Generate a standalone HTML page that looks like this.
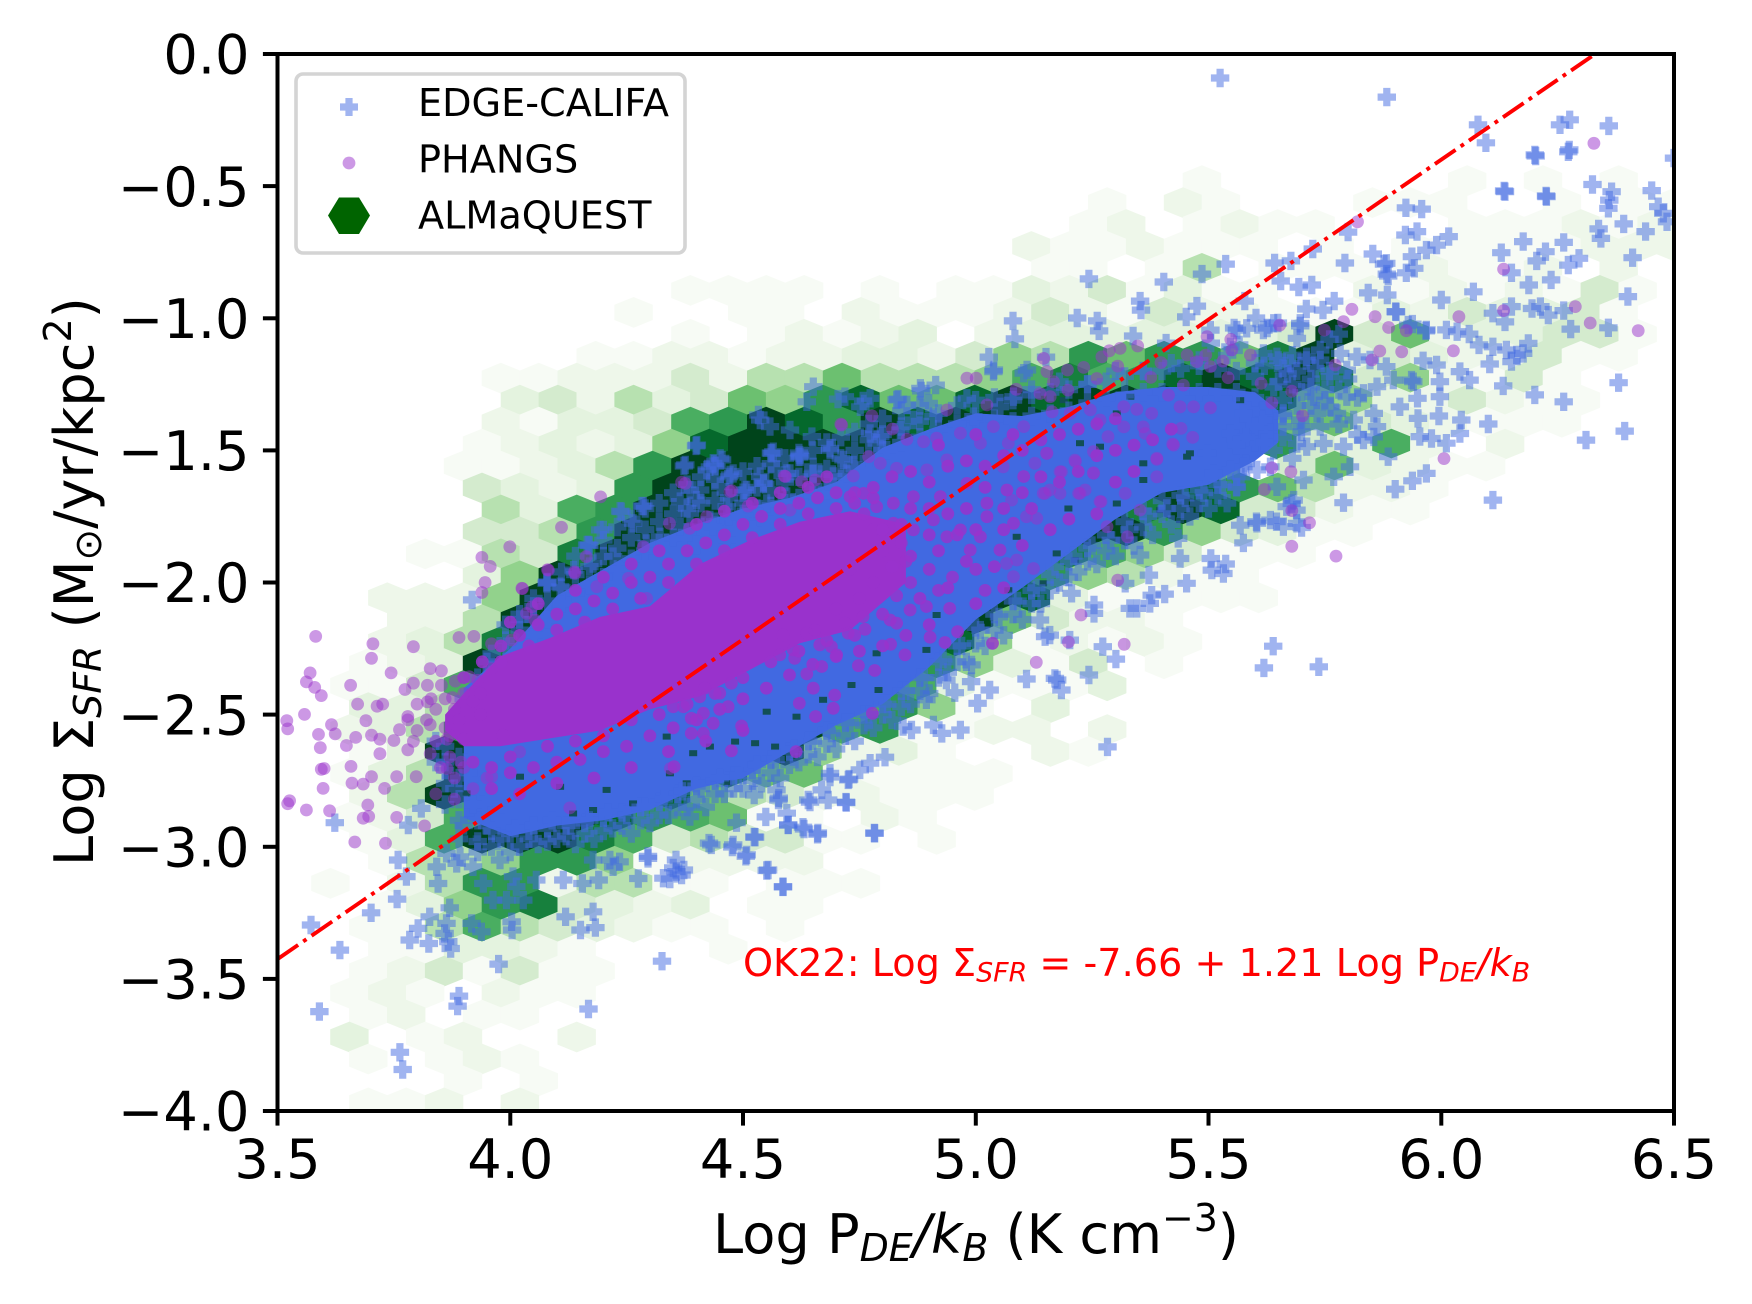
<!DOCTYPE html>
<html lang="en">
<head>
<meta charset="utf-8">
<title>Log SFR surface density vs Log midplane pressure</title>
<style>
html,body{margin:0;padding:0;background:#fff;}
#chart{display:block;width:1752px;height:1304px;font-family:"DejaVu Sans","Liberation Sans",sans-serif;}
</style>
</head>
<body>
<svg id="chart" xmlns="http://www.w3.org/2000/svg" width="1752" height="1304" viewBox="0 0 1752 1304">
  <rect x="0" y="0" width="1752" height="1304" fill="#ffffff"/>
  <defs><clipPath id="plot-clip"><rect x="277.5" y="54" width="1396.5" height="1057"/></clipPath></defs>
  <g id="plot-layer" clip-path="url(#plot-clip)"></g>
  <g id="axis-layer"></g>

  <g>
    <rect x="296" y="74" width="389" height="179" rx="7" ry="7" fill="#ffffff" fill-opacity="0.8" stroke="#d4d4d4" stroke-width="3.6"/>
    <path d="M345.4,98h7.2v5.4h5.4v7.2h-5.4v5.4h-7.2v-5.4h-5.4v-7.2h5.4z" fill="#4169e1" fill-opacity="0.5"/>
    <circle cx="349" cy="163" r="6.4" fill="#9932cc" fill-opacity="0.5"/>
    <polygon points="328,215.5 339,197.5 359,197.5 370,215.5 359,234 339,234" fill="#006400"/>
    <text x="418" y="116" font-size="38.2" fill="#000">EDGE-CALIFA</text>
    <text x="418" y="172.5" font-size="38.2" fill="#000">PHANGS</text>
    <text x="418" y="228.5" font-size="38.2" fill="#000">ALMaQUEST</text>
  </g>

  <text x="743" y="976" font-size="38.2" fill="#ff0000">OK22: Log Σ<tspan font-size="26.8" font-style="italic" dy="5.7">SFR</tspan><tspan dy="-5.7"> = -7.66 + 1.21 Log P</tspan><tspan font-size="26.8" font-style="italic" dy="5.7">DE</tspan><tspan font-style="italic" dy="-5.7">/k</tspan><tspan font-size="26.8" font-style="italic" dy="5.7">B</tspan></text>

  <text x="713" y="1253" font-size="54.17" fill="#000">Log P<tspan font-size="37.9" font-style="italic" dy="8">DE</tspan><tspan font-style="italic" dy="-8">/k</tspan><tspan font-size="37.9" font-style="italic" dy="8">B</tspan><tspan dy="-8"> (K cm</tspan><tspan font-size="37.9" dy="-22">−3</tspan><tspan dy="22">)</tspan></text>

  <text transform="translate(93,866) rotate(-90)" x="0" y="0" font-size="54.17" fill="#000">Log Σ<tspan font-size="37.9" font-style="italic" dy="8">SFR</tspan><tspan dy="-8"> (M</tspan><tspan font-size="37.9" dy="8">⊙</tspan><tspan dy="-8">/yr/kpc</tspan><tspan font-size="37.9" dy="-22">2</tspan><tspan dy="22">)</tspan></text>
</svg>

<script>
const xTicks = [3.5, 4.0, 4.5, 5.0, 5.5, 6.0, 6.5];
const xTickLabels = ["3.5", "4.0", "4.5", "5.0", "5.5", "6.0", "6.5"];
const yTicks = [0, -0.5, -1, -1.5, -2, -2.5, -3, -3.5, -4];
const yTickLabels = ["0.0", "−0.5", "−1.0", "−1.5", "−2.0", "−2.5", "−3.0", "−3.5", "−4.0"];

const fitIntercept = -7.66;
const fitSlope = 1.21;

const hexBinWidth = 0.0814;
const hexBinHeight = 0.0831;
const hexOriginX = 3.980;
const hexOriginY = -1.227;

/* [row, first column, binned density levels 0-12] */
const hexRows = [
[-9,18,[1,0,0,0,0,0,0,1,0,1,0,1]],
[-8,16,[1,0,2,1,0,0,0,1,1,1,0,0,1,0,1,1]],
[-7,15,[1,2,0,1,2,1,1,0,0,0,1,1,1,2,1,2]],
[-6,14,[2,1,1,2,1,1,1,0,1,0,1,1,1,1,1,2,2,2]],
[-5,14,[1,1,0,1,5,0,1,1,1,1,2,1,1,2,0,2]],
[-4,5,[1,1,1,1,0,1,0,1,1,3,2,4,1,3,1,1,0,0,2,1,2,1,2,1,4,1]],
[-3,3,[1,0,0,1,1,0,2,1,1,1,2,4,2,1,4,2,2,1,1,1,3,2,4,3,3,4,1]],
[-2,5,[1,0,1,2,1,2,3,0,2,3,3,3,3,3,3,3,4,12,4,7,2,3,3,4,4,1]],
[-1,2,[1,1,2,2,1,2,2,3,3,2,4,6,5,9,7,9,9,7,10,12,3,4,3,2,2,4,1,1]],
[0,0,[1,1,2,2,2,4,2,5,5,7,5,5,5,6,8,10,8,9,11,12,11,12,10,4,6,2,1,4,1]],
[1,0,[3,4,2,5,3,4,7,6,9,11,7,7,11,12,11,12,12,12,12,12,11,7,6,3,2,4,2,1,1]],
[2,0,[2,1,3,3,4,8,9,12,11,9,12,11,12,12,12,12,12,12,12,12,10,7,7,4,3,2,1,1,1]],
[3,-1,[1,2,3,2,3,6,11,12,12,12,12,12,12,12,12,12,12,12,12,12,11,9,4,3,8,2,0,2]],
[4,-1,[1,1,2,3,5,9,12,12,12,12,12,12,12,12,12,12,12,12,12,11,7,0,4,7,3,2,1,1]],
[5,-1,[4,3,2,3,9,12,12,12,12,12,12,12,12,12,12,12,12,12,12,11,9,7,5,2,2,1]],
[6,0,[5,3,8,9,12,12,12,12,12,12,12,12,12,12,12,12,12,10,12,11,4,4,2,1,1]],
[7,-1,[4,4,5,9,12,12,12,12,12,12,12,12,12,12,12,12,12,12,9,6,4,3,1,1]],
[8,-2,[1,1,5,4,10,12,12,12,12,12,12,12,12,12,12,12,12,10,8,6,4,1,1,1]],
[9,-1,[3,6,12,12,12,12,12,12,12,12,12,12,12,12,11,9,6,5,2,1,1]],
[10,-3,[2,2,2,6,12,12,12,12,12,12,12,12,12,12,12,12,12,11,3,1,1,1,1,1]],
[11,-3,[2,2,5,12,12,12,12,12,12,12,12,12,12,12,12,12,7,4,2,2,1]],
[12,-3,[2,3,5,10,12,12,12,12,12,12,12,12,12,12,12,11,6,1,2,1,2,1]],
[13,-4,[1,2,3,12,12,12,12,12,12,12,12,12,12,12,12,9,6,3,1,4,0,1]],
[14,-4,[1,1,4,8,12,12,12,12,12,12,12,12,12,12,11,8,3,1,1,1,3]],
[15,-4,[3,3,5,9,12,12,12,12,12,12,12,12,12,8,9,6,1,0,3]],
[16,-4,[2,3,5,9,12,12,12,12,12,12,12,12,12,8,9,1,1,2,2,0,2]],
[17,-4,[1,3,12,12,12,12,12,12,12,12,12,12,6,2,3,1,0,0,2,1]],
[18,-4,[1,3,5,12,12,12,12,12,12,12,10,7,7,2,1,1,1,1]],
[19,-4,[2,5,12,12,12,12,12,12,11,7,5,4,2,2,1,1,1]],
[20,-4,[1,2,4,8,12,12,12,11,9,8,7,1,1,0,2,1]],
[21,-4,[1,3,8,12,12,12,10,8,4,5,4,4,1,1,0,1]],
[22,-3,[1,5,5,6,9,9,6,1,2,2,2,2]],
[23,-5,[1,0,2,5,9,9,2,5,5,1,1,0,1,1,1]],
[24,-3,[1,3,6,9,10,4,3,2,3,0,1,1]],
[25,-4,[1,1,5,8,5,4,3,2,1,1,0,1]],
[26,-3,[1,1,3,3,2,1,0,0,0,1]],
[27,-4,[1,2,4,1,4,1,1]],
[28,-4,[1,2,1,0,2,1,1]],
[29,-4,[1,2,0,1,1]],
[30,-4,[3,0,1,2,0,0,2]],
[31,-4,[1,0,1,2,1]],
[32,-1,[1,0,1]],
[33,-4,[1,1,2,0,2]]
];

/* saturated core of the EDGE-CALIFA cloud */
const edgeCoreX = [3.90,4.00,4.10,4.20,4.30,4.40,4.50,4.60,4.70,4.80,4.90,5.00,5.10,5.20,5.30,5.40,5.50,5.60,5.65];
const edgeCoreTop = [-2.40,-2.25,-2.05,-1.95,-1.85,-1.78,-1.72,-1.68,-1.62,-1.49,-1.42,-1.36,-1.37,-1.335,-1.28,-1.26,-1.26,-1.28,-1.35];
const edgeCoreBottom = [-2.89,-2.96,-2.92,-2.90,-2.86,-2.78,-2.74,-2.64,-2.54,-2.46,-2.32,-2.14,-2.02,-1.89,-1.76,-1.66,-1.63,-1.54,-1.47];

/* saturated core of the PHANGS cloud */
const phangsCoreX = [3.86,3.90,3.978,4.085,4.193,4.30,4.408,4.515,4.622,4.73,4.85];
const phangsCoreTop = [-2.50,-2.42,-2.28,-2.21,-2.13,-2.09,-1.93,-1.84,-1.77,-1.73,-1.78];
const phangsCoreBottom = [-2.56,-2.62,-2.62,-2.59,-2.56,-2.48,-2.43,-2.33,-2.23,-2.18,-2.00];

/* places where dark hexes show through the cloud */
const coreGaps = [[4.336,-2.583],[4.393,-2.646],[4.429,-2.621],[4.483,-2.602],[4.526,-2.608],[4.551,-2.489],[4.569,-2.621],[4.672,-2.444],[4.733,-2.388],[4.791,-2.407],[4.894,-2.255],[4.916,-2.123],[4.787,-2.268],[4.615,-2.508],[4.379,-2.76],[4.468,-2.76],[4.343,-2.722],[3.928,-2.968],[4.021,-2.735],[4.135,-2.874],[4.178,-2.861],[4.264,-2.836],[4.207,-2.785],[3.978,-2.975],[4.107,-2.773],[3.906,-2.798],[5.303,-1.701],[5.199,-1.72],[5.07,-2.029],[5.174,-1.89],[5.213,-1.915],[5.36,-1.612],[5.46,-1.511],[5.439,-1.764],[5.396,-1.726],[5.088,-1.827],[5.145,-2.003],[5.189,-1.31],[5.332,-1.297],[5.303,-1.36],[5.568,-1.31],[5.224,-1.473],[5.454,-1.524],[5.36,-1.549],[5.267,-1.486]];

const edgeOutliersRight = [[6.203,-0.386],[6.273,-0.37],[6.325,-0.494],[6.366,-0.521],[6.361,-0.553],[6.359,-0.584],[6.452,-0.517],[6.466,-0.578],[6.477,-0.603],[6.485,-0.635],[6.137,-0.521],[6.226,-0.54],[6.392,-0.643],[6.439,-0.672],[6.338,-0.662],[6.343,-0.698],[6.176,-0.71],[6.263,-0.713],[6.129,-0.752],[6.224,-0.748],[6.205,-0.783],[6.296,-0.773],[6.273,-0.799],[6.411,-0.771],[6.151,-0.828],[6.188,-0.874],[6.236,-0.855],[6.401,-0.918],[6.069,-0.9],[6,-0.931],[5.924,-0.582],[5.958,-0.587],[5.923,-0.685],[5.948,-0.672],[6.016,-0.691],[5.99,-0.723],[5.968,-0.742],[5.937,-0.767],[5.942,-0.811],[5.882,-0.792],[5.925,-0.828],[5.886,-0.84],[5.884,-0.912],[5.902,-0.975],[5.929,-1.026],[5.968,-1.044],[6.011,-1.044],[6.034,-1.051],[6.06,-1.06],[6.081,-1.101],[6.111,-1.108],[6.111,-0.981],[6.137,-1.014],[6.151,-0.956],[6.195,-0.963],[6.213,-0.956],[6.23,-0.988],[6.263,-0.971],[6.278,-1.041],[6.359,-1.036],[6.14,-1.12],[6.187,-1.095],[6.162,-1.139],[6.176,-1.133],[6.151,-1.164],[6.104,-1.173],[5.99,-1.177],[5.961,-1.161],[6.04,-1.202],[6.061,-1.234],[5.997,-1.24],[5.936,-1.234],[6.133,-1.256],[6.201,-1.29],[5.997,-1.297],[5.949,-1.303],[6.263,-1.316],[6.381,-1.244],[6.101,-1.4],[5.995,-1.37],[6.043,-1.385],[5.95,-1.379],[5.911,-1.335],[6.04,-1.436],[6.011,-1.473],[5.979,-1.455],[5.954,-1.448],[6.311,-1.461],[6.394,-1.427],[5.968,-1.587],[5.938,-1.615],[5.901,-1.647],[6.111,-1.688],[5.886,-1.524],[5.882,-1.183],[5.897,-1.234],[5.94,-1.24]];

const edgeOutliersTop = [[5.525,-0.091],[5.883,-0.163],[6.079,-0.268],[6.096,-0.336],[6.255,-0.268],[6.276,-0.249],[6.36,-0.272],[6.201,-0.382],[6.275,-0.363],[6.135,-0.518],[6.225,-0.537],[6.5,-0.394],[5.243,-0.851],[5.404,-0.863],[5.537,-0.795],[5.486,-0.833],[5.642,-0.791],[5.677,-0.783],[5.724,-0.738],[5.793,-0.791],[5.8,-0.674],[5.853,-0.757],[5.877,-0.795],[5.883,-0.833],[5.655,-0.859],[5.694,-0.882],[5.722,-0.874],[5.578,-0.935],[5.475,-0.954],[5.452,-0.995],[5.353,-0.935],[5.355,-0.969],[5.218,-0.999],[5.261,-1.01],[5.265,-1.048],[5.08,-1.01],[5.084,-1.078],[5.338,-1.067],[5.028,-1.147],[5.039,-1.196],[4.914,-1.253],[4.883,-1.275],[4.833,-1.306],[5.151,-1.147],[5.11,-1.196],[5.843,-0.904],[5.77,-0.935],[5.746,-0.969],[5.71,-0.965],[5.602,-0.999],[5.555,-1.037],[5.626,-1.037],[5.649,-1.018],[5.697,-1.029],[5.903,-0.976],[5.938,-1.022],[5.967,-1.048],[5.409,-1.094],[5.505,-1.094],[5.566,-1.101]];

const edgeOutliersLowLeft = [[3.623,-2.909],[3.781,-2.918],[3.809,-2.855],[3.759,-3.05],[3.777,-3.113],[3.757,-3.198],[3.701,-3.25],[3.572,-3.296],[3.634,-3.391],[3.59,-3.624],[3.763,-3.778],[3.769,-3.843],[3.89,-3.565],[3.887,-3.603],[4.168,-3.614],[3.975,-3.444],[3.87,-3.231],[3.845,-3.139],[3.784,-3.353],[3.825,-3.366],[3.802,-3.309],[3.827,-3.265],[3.863,-3.29],[3.859,-3.328],[3.867,-3.359],[3.872,-3.385],[3.917,-3.29],[3.938,-3.322],[4.004,-3.315],[4.003,-3.284],[4.119,-3.265],[4.178,-3.246],[4.151,-3.315],[4.183,-3.306],[4.275,-3.12],[4.114,-3.126],[4.155,-3.139],[4.19,-3.126],[4.056,-3.126],[3.842,-3.076],[3.885,-3.063],[3.92,-3.076],[3.892,-3.038],[3.863,-3.025],[3.942,-3.139],[3.978,-3.05],[4.006,-3.113],[3.963,-3.202],[3.992,-3.202],[4.028,-3.202],[4.013,-3.151],[4.296,-3.044],[4.221,-3.076],[4.214,-3.05],[4.235,-3.057],[4.178,-3.05],[4.326,-3.433],[4.296,-3.036],[4.35,-3.08],[4.343,-3.122],[4.373,-3.088],[4.427,-2.986],[4.477,-3.001],[4.506,-3.036],[4.554,-3.088],[4.586,-3.152],[4.524,-2.963],[4.549,-2.887],[4.597,-2.918],[4.631,-2.933],[4.661,-2.948],[4.721,-2.831],[4.524,-2.804],[4.577,-2.816],[4.644,-2.831],[4.687,-2.736],[4.728,-2.744],[4.782,-2.948]];

const edgeOutliersLowRight = [[4.687,-2.722],[4.726,-2.747],[4.751,-2.709],[4.773,-2.684],[4.805,-2.661],[4.64,-2.823],[4.683,-2.823],[4.722,-2.833],[4.669,-2.785],[4.572,-2.785],[4.576,-2.823],[4.594,-2.873],[4.597,-2.917],[4.629,-2.926],[4.66,-2.953],[4.783,-2.949],[4.526,-2.964],[4.508,-3.031],[4.551,-3.09],[4.586,-3.151],[4.479,-2.993],[4.432,-2.993],[4.356,-3.05],[4.329,-3.119],[4.357,-3.094],[4.368,-3.107],[4.844,-2.545],[4.862,-2.558],[4.909,-2.539],[4.927,-2.571],[4.967,-2.558],[5.004,-2.457],[4.955,-2.417],[4.99,-2.375],[5.03,-2.407],[4.937,-2.369],[4.991,-2.312],[4.894,-2.444],[4.486,-2.909],[4.386,-2.886],[5.283,-2.622],[5.639,-2.241],[5.619,-2.323],[5.737,-2.319],[5.109,-2.365],[5.17,-2.363],[5.175,-2.369],[5.184,-2.407],[5.243,-2.35],[5.273,-2.243],[5.301,-2.29],[5.149,-2.205],[5.159,-2.199],[5.202,-2.218],[5.254,-2.085],[5.254,-2.117],[5.206,-2.041],[5.138,-2.142],[5.331,-2.098],[5.346,-2.098],[5.374,-2.079],[5.378,-2.048],[5.406,-2.044],[5.453,-2.003],[5.372,-1.972],[5.321,-2.003],[5.439,-1.909],[5.505,-1.909],[5.507,-1.953],[5.537,-1.93],[5.532,-1.966],[5.575,-1.85],[5.603,-1.77],[5.568,-1.783],[5.646,-1.77],[5.7,-1.792],[5.679,-1.701],[5.689,-1.726],[5.79,-1.698],[5.435,-1.833],[5.353,-1.896]];

const edgeTransition = [[5.561,-1.045],[5.582,-1.038],[5.618,-1.045],[5.64,-1.019],[5.697,-1.019],[5.69,-1.076],[5.504,-1.045],[5.547,-1.108],[5.618,-1.133],[5.647,-1.146],[5.676,-1.171],[5.711,-1.146],[5.74,-1.158],[5.783,-1.133],[5.761,-1.221],[5.797,-1.196],[5.819,-1.146],[5.847,-1.158],[5.726,-1.297],[5.761,-1.335],[5.797,-1.297],[5.833,-1.284],[5.862,-1.259],[5.661,-1.36],[5.697,-1.385],[5.733,-1.36],[5.776,-1.36],[5.812,-1.385],[5.855,-1.36],[5.618,-1.385],[5.575,-1.36],[5.69,-1.474],[5.711,-1.486],[5.747,-1.474],[5.79,-1.486],[5.704,-1.612],[5.647,-1.638],[5.683,-1.688],[5.547,-1.574],[5.575,-1.562],[5.604,-1.574],[5.633,-1.562],[5.804,-1.562],[5.769,-1.6],[5.633,-1.764],[5.668,-1.713],[5.604,-1.776],[5.69,-1.776],[5.661,-1.789],[5.862,-1.41],[5.833,-1.461],[5.855,-1.449],[5.511,-1.587],[5.497,-1.511],[5.561,-1.638],[5.547,-1.436],[5.68,-1.25],[5.7,-1.28],[5.66,-1.31],[5.72,-1.33],[5.69,-1.33],[5.64,-1.26],[5.67,-1.21],[5.72,-1.23],[5.75,-1.27],[5.66,-1.41],[5.7,-1.43],[5.74,-1.41],[5.62,-1.44],[5.6,-1.47],[5.64,-1.5],[5.68,-1.53],[5.62,-1.18],[5.65,-1.16],[5.68,-1.14],[5.71,-1.16],[5.74,-1.12],[5.76,-1.08],[5.78,-1.06],[5.65,-1.24],[5.69,-1.2],[5.73,-1.19],[5.76,-1.2],[5.63,-1.33],[5.66,-1.37],[5.7,-1.41],[5.6,-1.41],[5.58,-1.45],[5.56,-1.48],[5.62,-1.47],[5.66,-1.45],[5.72,-1.26],[5.75,-1.31],[5.78,-1.27],[5.8,-1.23],[5.82,-1.3],[5.78,-1.4],[5.82,-1.44]];

const edgeFringeUpper = [[4.651,-1.259],[4.637,-1.316],[4.719,-1.297],[4.752,-1.335],[4.773,-1.303],[4.83,-1.309],[4.881,-1.265],[4.852,-1.328],[4.899,-1.322],[4.981,-1.303],[5.038,-1.202],[5.103,-1.208],[4.533,-1.366],[4.558,-1.41],[4.601,-1.423],[4.648,-1.448],[4.687,-1.499],[4.562,-1.511],[4.623,-1.524],[4.401,-1.48],[4.376,-1.555],[4.455,-1.536],[4.429,-1.562],[4.472,-1.593],[4.508,-1.65],[4.544,-1.625],[4.594,-1.587],[4.651,-1.562],[4.716,-1.536],[4.737,-1.555],[4.787,-1.473],[4.809,-1.499],[4.694,-1.599],[4.408,-1.65],[4.451,-1.637],[4.465,-1.713],[4.429,-1.763],[4.386,-1.738],[4.501,-1.7],[4.537,-1.599],[4.573,-1.574],[4.386,-1.65],[4.723,-1.587],[4.773,-1.436],[4.795,-1.448],[4.838,-1.423],[4.866,-1.385],[4.909,-1.372],[4.995,-1.372],[5.052,-1.335],[5.081,-1.297],[4.286,-1.711],[4.239,-1.732],[4.264,-1.776],[4.2,-1.801],[4.168,-1.858],[4.322,-1.827],[4.365,-1.694],[4.4,-1.688],[4.436,-1.549],[4.479,-1.587],[4.422,-1.574],[4.451,-1.53],[4.504,-1.65],[4.565,-1.505],[4.622,-1.518],[4.687,-1.492],[4.544,-1.625],[4.601,-1.587],[4.651,-1.587],[4.078,-2.003],[4.107,-2.016],[4.221,-1.902],[4.293,-1.852],[4.365,-1.789],[4.436,-1.789],[4.494,-1.751],[4.551,-1.701],[4.594,-1.675],[4.651,-1.637],[4.694,-1.637],[4.4,-1.858],[4.465,-1.839],[4.522,-1.801],[4.136,-1.953],[4.178,-1.928],[3.992,-2.243],[3.918,-2.066],[4.399,-1.483],[4.373,-1.559],[4.236,-1.73],[4.283,-1.711],[4.193,-1.801],[4.165,-1.858],[4.079,-1.998],[4.537,-1.385],[4.704,-1.306],[4.758,-1.313],[4.56,-1.51],[4.62,-1.525],[5.12,-1.27],[5.18,-1.24],[5.24,-1.25],[5.3,-1.2],[5.36,-1.2],[5.42,-1.17],[5.48,-1.16],[5.54,-1.14],[5.6,-1.17],[5.66,-1.19],[3.95,-2.3],[4.02,-2.14],[4.05,-2.09],[3.93,-2.4],[3.96,-2.35]];

const edgeFillUpper = [[3.96,-2.33],[3.96,-2.27],[3.99,-2.3],[3.99,-2.22],[3.99,-2.16],[4.02,-2.26],[4.02,-2.18],[4.02,-2.12],[4.05,-2.2],[4.05,-2.14],[4.05,-2.06],[4.08,-2.14],[4.08,-2.07],[4.08,-2],[4.11,-2.08],[4.11,-2.02],[4.11,-1.96],[4.14,-2.04],[4.14,-1.97],[4.14,-1.9],[4.17,-2.01],[4.17,-1.94],[4.17,-1.86],[4.2,-1.98],[4.2,-1.9],[4.2,-1.84],[4.23,-1.95],[4.23,-1.87],[4.23,-1.79],[4.26,-1.91],[4.26,-1.83],[4.26,-1.76],[4.29,-1.88],[4.29,-1.8],[4.29,-1.72],[4.32,-1.85],[4.32,-1.77],[4.32,-1.7],[4.35,-1.83],[4.35,-1.74],[4.35,-1.66],[4.38,-1.81],[4.38,-1.72],[4.38,-1.63],[4.41,-1.79],[4.41,-1.7],[4.41,-1.6],[4.44,-1.77],[4.44,-1.69],[4.44,-1.61],[4.44,-1.56],[4.47,-1.75],[4.47,-1.68],[4.47,-1.6],[4.5,-1.74],[4.5,-1.66],[4.5,-1.58],[4.53,-1.72],[4.53,-1.64],[4.53,-1.56],[4.56,-1.71],[4.56,-1.65],[4.56,-1.55],[4.59,-1.7],[4.59,-1.62],[4.59,-1.53],[4.62,-1.68],[4.62,-1.6],[4.62,-1.51],[4.65,-1.67],[4.65,-1.59],[4.65,-1.5],[4.68,-1.65],[4.68,-1.57],[4.68,-1.47],[4.71,-1.6],[4.71,-1.53],[4.71,-1.45],[4.74,-1.57],[4.74,-1.5],[4.74,-1.43],[4.77,-1.53],[4.77,-1.46],[4.77,-1.4],[4.8,-1.5],[4.8,-1.44],[4.8,-1.38],[4.84,-1.47],[4.84,-1.41],[4.84,-1.35],[4.88,-1.45],[4.88,-1.39],[4.88,-1.33],[4.92,-1.42],[4.92,-1.36],[4.96,-1.4],[4.96,-1.33],[5,-1.38],[5,-1.31],[5.04,-1.38],[5.04,-1.3],[5.08,-1.39],[5.08,-1.31],[5.12,-1.37],[5.12,-1.29],[5.16,-1.36],[5.16,-1.28],[5.2,-1.35],[5.2,-1.27],[5.24,-1.32],[5.24,-1.25],[5.28,-1.3],[5.28,-1.24],[5.32,-1.29],[5.32,-1.22],[5.36,-1.28],[5.36,-1.2],[5.4,-1.28],[5.4,-1.2],[5.44,-1.28],[5.44,-1.19],[5.48,-1.28],[5.48,-1.18],[5.52,-1.28],[5.52,-1.19],[5.56,-1.28],[5.56,-1.2],[5.6,-1.3],[5.6,-1.22],[3.9,-2.5],[3.9,-2.44],[3.93,-2.42],[3.93,-2.36],[3.84,-2.6],[3.84,-2.68]];

const edgeFringeLower = [[3.88,-2.78],[3.92,-2.84],[3.9,-2.92],[3.95,-2.92],[3.98,-2.97],[4.02,-3],[4.06,-2.99],[4.1,-2.97],[4.14,-2.99],[4.18,-2.97],[4.22,-2.93],[4.26,-2.95],[4.3,-2.91],[4.34,-2.88],[4.38,-2.85],[4.42,-2.85],[4.46,-2.8],[4.5,-2.78],[4.54,-2.76],[4.58,-2.74],[4.62,-2.68],[4.66,-2.66],[4.7,-2.63],[4.74,-2.6],[4.78,-2.55],[4.82,-2.52],[4.86,-2.46],[4.9,-2.42],[4.94,-2.34],[4.98,-2.3],[5.02,-2.24],[5.06,-2.2],[5.1,-2.14],[5.14,-2.08],[5.18,-2],[5.22,-1.96],[5.26,-1.93],[5.3,-1.9],[5.34,-1.86],[5.38,-1.82],[5.42,-1.78],[5.46,-1.75],[5.5,-1.72],[5.54,-1.7],[3.86,-2.71],[3.91,-2.72],[3.94,-2.77],[3.97,-2.86],[4.01,-2.93],[4.05,-2.92],[4.09,-2.9],[4.13,-2.92],[4.17,-2.9],[4.21,-2.87],[4.25,-2.88],[4.29,-2.85],[4.33,-2.82],[4.37,-2.79],[4.41,-2.78],[4.45,-2.74],[4.49,-2.73],[4.53,-2.69],[4.57,-2.67],[4.61,-2.63],[4.65,-2.6],[4.69,-2.57],[4.73,-2.53],[4.77,-2.5],[4.81,-2.46],[4.85,-2.41],[4.89,-2.36],[4.93,-2.29],[4.97,-2.24],[5.01,-2.18],[5.05,-2.13],[5.09,-2.07],[5.13,-2.02],[5.17,-1.94],[5.21,-1.9],[5.25,-1.86],[5.29,-1.84],[5.33,-1.8],[5.37,-1.75],[5.41,-1.72],[5.45,-1.68],[5.49,-1.66],[5.53,-1.63],[5.57,-1.6],[5.58,-1.55]];

const edgeFillLower = [[3.86,-2.62],[3.86,-2.68],[3.86,-2.76],[3.86,-2.84],[3.89,-2.66],[3.89,-2.74],[3.89,-2.82],[3.89,-2.9],[3.89,-2.97],[3.93,-2.9],[3.93,-2.98],[3.93,-3.02],[3.96,-2.94],[3.96,-3],[4,-2.95],[4,-3.02],[4.04,-2.94],[4.04,-2.97],[4.08,-2.93],[4.08,-2.98],[4.12,-2.92],[4.12,-2.96],[4.16,-2.91],[4.16,-2.95],[4.2,-2.89],[4.2,-2.94],[4.24,-2.87],[4.24,-2.92],[4.28,-2.85],[4.28,-2.9],[4.32,-2.83],[4.32,-2.88],[4.36,-2.8],[4.36,-2.85],[4.4,-2.77],[4.4,-2.82],[4.44,-2.75],[4.44,-2.8],[4.48,-2.73],[4.48,-2.78],[4.52,-2.71],[4.52,-2.75],[4.56,-2.67],[4.56,-2.72],[4.6,-2.64],[4.6,-2.69],[4.64,-2.6],[4.64,-2.65],[4.68,-2.56],[4.68,-2.61],[4.72,-2.53],[4.72,-2.58],[4.76,-2.5],[4.76,-2.54],[4.8,-2.46],[4.8,-2.5],[4.84,-2.41],[4.84,-2.47],[4.88,-2.36],[4.88,-2.41],[4.92,-2.3],[4.92,-2.36],[4.96,-2.24],[4.96,-2.3],[5,-2.17],[5,-2.23],[5.04,-2.12],[5.04,-2.18],[5.08,-2.07],[5.08,-2.12],[5.12,-2.03],[5.12,-2.08],[5.16,-1.97],[5.16,-2.03],[5.2,-1.92],[5.2,-1.98],[5.24,-1.87],[5.24,-1.92],[5.28,-1.82],[5.28,-1.88],[5.32,-1.77],[5.32,-1.84],[5.36,-1.73],[5.36,-1.79],[5.4,-1.69],[5.4,-1.74],[5.44,-1.67],[5.44,-1.72],[5.48,-1.65],[5.48,-1.7],[5.52,-1.63],[5.52,-1.67],[5.56,-1.6],[5.56,-1.64]];

const phangsLeft = [[3.52,-2.523],[3.522,-2.554],[3.558,-2.499],[3.57,-2.342],[3.562,-2.376],[3.58,-2.397],[3.594,-2.428],[3.616,-2.538],[3.624,-2.573],[3.588,-2.575],[3.592,-2.625],[3.6,-2.704],[3.594,-2.707],[3.598,-2.779],[3.657,-2.389],[3.672,-2.46],[3.69,-2.523],[3.648,-2.617],[3.668,-2.586],[3.702,-2.578],[3.72,-2.593],[3.75,-2.598],[3.72,-2.648],[3.658,-2.696],[3.702,-2.735],[3.66,-2.759],[3.684,-2.763],[3.73,-2.779],[3.522,-2.837],[3.526,-2.826],[3.562,-2.861],[3.612,-2.864],[3.694,-2.842],[3.696,-2.885],[3.684,-2.892],[3.756,-2.889],[3.666,-2.982],[3.732,-2.987],[3.816,-2.921],[3.744,-2.342],[3.702,-2.287],[3.726,-2.46],[3.714,-2.468],[3.762,-2.557],[3.78,-2.507],[3.792,-2.601],[3.78,-2.633],[3.798,-2.735],[3.756,-2.735],[3.774,-2.405],[3.828,-2.326],[3.852,-2.334],[3.882,-2.373],[3.792,-2.381],[3.822,-2.389],[3.852,-2.389],[3.876,-2.436],[3.828,-2.538],[3.822,-2.452],[3.864,-2.593],[3.9,-2.593],[3.828,-2.648],[3.864,-2.704],[3.894,-2.68],[3.936,-2.499],[3.936,-2.42],[3.912,-2.357],[3.96,-2.326],[3.984,-2.578],[4.02,-2.641],[3.96,-2.735],[4.128,-2.853],[4.344,-2.704],[3.582,-2.204],[3.705,-2.232],[3.792,-2.243],[3.89,-2.208],[3.922,-2.204],[3.96,-2.232],[3.84,-2.48],[3.86,-2.55],[3.84,-2.6],[3.87,-2.66],[3.85,-2.7],[3.88,-2.74],[3.9,-2.7],[3.82,-2.52],[3.83,-2.44],[3.86,-2.44],[3.88,-2.48],[3.9,-2.42],[3.92,-2.45],[3.89,-2.52],[3.93,-2.37],[3.87,-2.58],[3.8,-2.46],[3.8,-2.56],[3.78,-2.52],[3.84,-2.8],[3.88,-2.82],[3.92,-2.78],[3.95,-2.74]];

const phangsUpper = [[4.194,-1.676],[4.11,-1.791],[3.999,-1.865],[3.939,-1.905],[3.957,-1.939],[3.946,-2],[4.026,-2.023],[3.939,-2.038],[4.368,-1.621],[4.476,-1.653],[4.71,-1.401],[4.08,-1.952],[4.138,-1.96],[4.082,-1.953],[4.025,-2.022],[4.047,-2.092],[4.035,-2.117],[4.053,-2.142],[4.003,-2.218],[4.139,-1.965],[4.163,-1.902],[4.186,-2.016],[4.286,-1.865],[4.254,-1.984],[4.422,-1.751],[4.385,-1.795],[4.342,-1.776],[4.511,-1.711],[4.589,-1.597],[4.626,-1.619],[4.655,-1.612],[4.601,-1.726],[4.293,-2.06],[4.376,-1.625],[4.472,-1.656],[4.591,-1.599],[4.737,-1.597],[4.712,-1.404],[4.777,-1.369],[4.821,-1.419],[4.938,-1.347],[4.981,-1.227],[5.001,-1.227],[5.087,-1.269],[4.852,-1.458],[4.967,-1.435],[5.024,-1.328],[4.916,-1.454],[4.888,-1.467],[4.795,-1.549],[4.77,-1.524],[4.83,-1.568],[4.895,-1.574],[4.938,-1.536],[5.01,-1.473],[5.038,-1.41],[5.07,-1.473],[5.103,-1.41]];

/* PHANGS points stacked over the dense EDGE core */
const phangsStacked = [[3.98,-2.3],[4.04,-2.24],[4.1,-2.18],[4.16,-2.15],[4.22,-2.1],[4.28,-2.06],[4.34,-2],[4.4,-1.93],[4.46,-1.88],[4.52,-1.83],[4.58,-1.78],[4.64,-1.74],[4.7,-1.72],[4.76,-1.74],[4,-2.66],[4.08,-2.62],[4.14,-2.6],[4.2,-2.58],[4.26,-2.52],[4.32,-2.5],[4.38,-2.46],[4.44,-2.42],[4.5,-2.36],[4.56,-2.3],[4.62,-2.26],[4.68,-2.22],[4.74,-2.2],[4.8,-2.12],[3.9,-2.36],[3.94,-2.3],[3.98,-2.24],[4.02,-2.2],[4.06,-2.16],[4.1,-2.12],[4.14,-2.1],[4.18,-2.07],[4.22,-2.04],[4.26,-2],[4.3,-1.98],[4.34,-1.93],[4.38,-1.88],[4.42,-1.85],[4.46,-1.82],[4.5,-1.78],[4.54,-1.75],[4.58,-1.72],[4.62,-1.7],[4.66,-1.68],[4.7,-1.66],[4.74,-1.66],[4.78,-1.68],[4,-2.15],[4.06,-2.08],[4.14,-2.03],[4.2,-1.98],[4.26,-1.93],[4.32,-1.88],[4.4,-1.78],[4.46,-1.73],[4.52,-1.7],[4.58,-1.66],[4.64,-1.64],[4.68,-1.6],[3.92,-2.68],[3.96,-2.7],[4,-2.72],[4.05,-2.7],[4.1,-2.68],[4.15,-2.67],[4.2,-2.64],[4.25,-2.62],[4.3,-2.58],[4.35,-2.55],[4.4,-2.52],[4.45,-2.48],[4.5,-2.44],[4.55,-2.4],[4.6,-2.35],[4.65,-2.31],[4.7,-2.28],[4.75,-2.26],[4.8,-2.24],[4.85,-2.2],[4.9,-2.16],[3.96,-2.78],[4.02,-2.8],[4.1,-2.76],[4.18,-2.74],[4.26,-2.7],[4.34,-2.64],[4.42,-2.6],[4.5,-2.56],[4.86,-1.72],[4.9,-1.72],[4.94,-1.74],[4.98,-1.72],[5.02,-1.64],[5.06,-1.72],[5.1,-1.66],[5.14,-1.6],[5.18,-1.62],[5.22,-1.58],[5.26,-1.52],[5.3,-1.5],[5.34,-1.48],[5.38,-1.46],[5.42,-1.42],[4.86,-1.9],[4.92,-1.88],[4.98,-1.92],[5.04,-1.94],[5.1,-1.86],[5.16,-1.8],[5.2,-1.76],[5.26,-1.74],[5.3,-1.62],[5.34,-1.58],[4.82,-1.94],[4.88,-2.06],[4.94,-2.02],[5,-2.08],[5.06,-2.02],[4.8,-1.8],[4.84,-1.78],[4.9,-1.82],[4.96,-1.82],[5,-1.8],[5.06,-1.8],[5.12,-1.72],[4.82,-1.6],[4.86,-1.58],[4.9,-1.62],[4.94,-1.56],[4.98,-1.54],[5.02,-1.56],[5.06,-1.52],[5.1,-1.5],[5.14,-1.46],[5.18,-1.44],[5.22,-1.42],[5.26,-1.4],[5.3,-1.38],[5.08,-1.44],[5,-1.44],[4.92,-1.48],[4.78,-1.64],[4.74,-1.7]];

const phangsMiddle = [[4.73,-1.675],[4.759,-1.663],[4.787,-1.713],[4.823,-1.7],[4.866,-1.675],[4.924,-1.675],[4.981,-1.625],[5.024,-1.7],[5.067,-1.65],[5.103,-1.599],[4.967,-1.801],[5.024,-1.751],[5.081,-1.776],[4.866,-1.801],[4.823,-1.776],[4.909,-1.763],[4.938,-1.827],[5.01,-1.827],[5.052,-1.877],[4.988,-1.877],[4.8,-1.88],[4.85,-1.92],[4.9,-1.95],[4.95,-1.98],[5,-1.95],[4.86,-2],[4.92,-2.03],[5.02,-2.03],[4.78,-2],[4.75,-2.06],[4.83,-2.05],[4.73,-1.95],[4.78,-1.8],[4.84,-1.85],[4.7,-2.1],[5.036,-2.23],[4.961,-2.186],[4.934,-2.227],[4.902,-2.207],[4.848,-2.274],[4.817,-2.234],[4.778,-2.495],[4.694,-2.476],[4.656,-2.507],[4.621,-2.457],[4.614,-2.64],[4.475,-2.637],[4.352,-2.697],[4.389,-2.571],[4.436,-2.533],[4.497,-2.543],[4.415,-2.571],[4.468,-2.47],[4.415,-2.495],[4.389,-2.514],[4.372,-2.47],[4.35,-2.47],[4.783,-2.333],[4.748,-2.315],[4.669,-2.318],[4.637,-2.346],[4.651,-2.4],[4.697,-2.426],[4.69,-2.243],[4.701,-2.274],[4.665,-2.236],[4.637,-2.192],[4.654,-2.18],[4.608,-2.255],[4.586,-2.198],[4.579,-2.274],[4.611,-2.287],[4.726,-2.192],[4.762,-2.177],[4.758,-2.129],[4.719,-2.154],[4.816,-2.142],[4.83,-2.154],[4.859,-2.104],[4.894,-2.091],[4.944,-2.098],[4.45,-2.419],[4.475,-2.381],[4.418,-2.4],[4.407,-2.432]];

const phangsRight = [[5.82,-0.635],[5.808,-0.966],[5.858,-0.994],[5.79,-1.013],[5.749,-1.045],[5.653,-1.026],[5.497,-1.07],[5.548,-1.08],[5.55,-1.12],[5.59,-1.139],[5.348,-1.105],[5.31,-1.114],[5.287,-1.123],[5.271,-1.146],[5.146,-1.152],[5.454,-1.139],[5.494,-1.139],[5.475,-1.164],[5.504,-1.183],[5.531,-1.162],[5.398,-1.168],[5.376,-1.224],[5.305,-1.181],[5.26,-1.228],[5.232,-1.186],[5.197,-1.196],[5.153,-1.202],[5.167,-1.24],[5.198,-1.272],[5.138,-1.285],[5.16,-1.297],[5.542,-1.225],[5.613,-1.246],[5.772,-1.177],[5.851,-1.158],[5.679,-1.276],[5.636,-1.32],[5.702,-1.369],[5.504,-1.339],[5.468,-1.335],[5.439,-1.335],[5.414,-1.291],[5.378,-1.36],[5.346,-1.345],[5.318,-1.335],[5.446,-1.253],[5.164,-1.354],[5.203,-1.36],[5.246,-1.347],[5.267,-1.385],[5.318,-1.411],[5.36,-1.411],[5.364,-1.436],[5.441,-1.417],[5.466,-1.451],[5.284,-1.448],[5.253,-1.587],[5.269,-1.694],[5.389,-1.534],[5.389,-1.6],[5.425,-1.48],[5.353,-1.726],[5.321,-1.663],[5.214,-1.543],[5.153,-1.511],[5.181,-1.581],[5.636,-1.566],[5.677,-1.581],[5.62,-1.648],[5.679,-1.728],[5.717,-1.774],[5.282,-1.789],[5.235,-1.65],[5.221,-1.663],[5.149,-1.663],[6.134,-0.814],[6.134,-0.971],[6.038,-0.994],[6.288,-0.956],[6.32,-1.018],[6.423,-1.047],[6.026,-1.123],[5.915,-1.127],[5.868,-1.124],[5.925,-1.047],[5.887,-1.035],[6.006,-1.531],[6.328,-0.338],[5.774,-1.9],[5.679,-1.863],[5.319,-2.234],[5.199,-2.225],[5.226,-2.123],[5.13,-2.302],[5.305,-1.991],[5.326,-1.827],[5.124,-1.947],[5.081,-1.978],[5.088,-1.915],[5.066,-1.928],[5.109,-1.751],[5.077,-1.688],[5.131,-1.757],[5.145,-1.663],[5.159,-1.65],[5.184,-1.581],[5.181,-1.663],[5.224,-1.663],[5.267,-1.694],[5.253,-1.585],[5.059,-1.562],[5.127,-1.549],[5.213,-1.537],[5.253,-1.505],[5.152,-1.511],[5.389,-1.53],[5.423,-1.476]];

const SVG_NS = 'http://www.w3.org/2000/svg';
const plotLayer = document.getElementById('plot-layer');
const axisLayer = document.getElementById('axis-layer');

function xAxis(v) { return 277.5 + (v - 3.5) * 465.5; }
function yAxis(v) { return 54 - v * 264.25; }

const hexColor = ['none','#f7fbf5','#eef7ea','#e4f3df','#d4ebce','#b7e1b0','#92d28c','#6cc070','#4aae61','#2e9950','#17803d','#05692c','#00441b'];

function hexPoints(cx, cy) {
  const w = 19.2, s = 7.6, t = 15.4;
  return [[cx+w,cy-s],[cx+w,cy+s],[cx,cy+t],[cx-w,cy+s],[cx-w,cy-s],[cx,cy-t]]
    .map(function (p) { return p[0].toFixed(1) + ',' + p[1].toFixed(1); }).join(' ');
}

const hexGroup = document.createElementNS(SVG_NS, 'g');


plotLayer.appendChild(hexGroup);
hexRows.forEach(function (row) {
  const r = row[0], startCol = row[1], levels = row[2];
  const shift = (r % 2 !== 0) ? 0.5 : 0;
  levels.forEach(function (level, i) {
    if (!level) return;
    const dataX = hexOriginX + (startCol + i + shift) * hexBinWidth;
    const dataY = hexOriginY - r * hexBinHeight;
    const hex = document.createElementNS(SVG_NS, 'polygon');
    hex.setAttribute('points', hexPoints(xAxis(dataX), yAxis(dataY)));
    hex.setAttribute('fill', hexColor[level]);
    
    
    hexGroup.appendChild(hex);
  });
});

function envelopePath(xs, tops, bottoms) {
  const upper = xs.map(function (x, i) { return xAxis(x).toFixed(1) + ',' + yAxis(tops[i]).toFixed(1); });
  const lower = xs.map(function (x, i) { return xAxis(x).toFixed(1) + ',' + yAxis(bottoms[i]).toFixed(1); }).reverse();
  return upper.concat(lower).join(' ');
}

const edgeGroup = document.createElementNS(SVG_NS, 'g');


plotLayer.appendChild(edgeGroup);

const edgeCore = document.createElementNS(SVG_NS, 'polygon');
edgeCore.setAttribute('points', envelopePath(edgeCoreX, edgeCoreTop, edgeCoreBottom));
edgeCore.setAttribute('fill', '#4169e1');


edgeGroup.appendChild(edgeCore);

coreGaps.forEach(function (g) {
  const gap = document.createElementNS(SVG_NS, 'rect');
  gap.setAttribute('x', (xAxis(g[0]) - 4).toFixed(1));
  gap.setAttribute('y', (yAxis(g[1]) - 3).toFixed(1));
  gap.setAttribute('width', '8');
  gap.setAttribute('height', '6');
  gap.setAttribute('fill', '#124f55');
  
  
  edgeGroup.appendChild(gap);
});

function drawPlus(p) {
  const cx = xAxis(p[0]), cy = yAxis(p[1]);
  const mark = document.createElementNS(SVG_NS, 'path');
  mark.setAttribute('d', 'M' + (cx-3.6).toFixed(1) + ',' + (cy-9.2).toFixed(1) +
    'h7.2v5.6h5.6v7.2h-5.6v5.6h-7.2v-5.6h-5.6v-7.2h5.6z');
  mark.setAttribute('fill', '#4169e1');
  mark.setAttribute('fill-opacity', '0.5');
  
  
  edgeGroup.appendChild(mark);
}
[edgeFillUpper, edgeFringeUpper, edgeFillLower, edgeFringeLower, edgeTransition, edgeOutliersRight, edgeOutliersTop, edgeOutliersLowLeft, edgeOutliersLowRight]
  .forEach(function (list) { list.forEach(drawPlus); });

const phangsGroup = document.createElementNS(SVG_NS, 'g');


plotLayer.appendChild(phangsGroup);

const phangsCore = document.createElementNS(SVG_NS, 'polygon');
phangsCore.setAttribute('points', envelopePath(phangsCoreX, phangsCoreTop, phangsCoreBottom));
phangsCore.setAttribute('fill', '#9932cc');


phangsGroup.appendChild(phangsCore);

function drawDot(p, opacity) {
  const dot = document.createElementNS(SVG_NS, 'circle');
  dot.setAttribute('cx', xAxis(p[0]).toFixed(1));
  dot.setAttribute('cy', yAxis(p[1]).toFixed(1));
  dot.setAttribute('r', '6.4');
  dot.setAttribute('fill', '#9932cc');
  dot.setAttribute('fill-opacity', opacity);
  
  
  phangsGroup.appendChild(dot);
}
phangsLeft.forEach(function (p) { drawDot(p, '0.5'); });
phangsUpper.forEach(function (p) { drawDot(p, '0.5'); });
phangsRight.forEach(function (p) { drawDot(p, '0.5'); });
phangsMiddle.forEach(function (p) { drawDot(p, '0.8'); });
phangsStacked.forEach(function (p) { drawDot(p, '0.85'); });

const fitLine = document.createElementNS(SVG_NS, 'line');
fitLine.setAttribute('x1', xAxis(3.5).toFixed(1));
fitLine.setAttribute('y1', yAxis(fitIntercept + fitSlope * 3.5).toFixed(1));
fitLine.setAttribute('x2', xAxis(6.5).toFixed(1));
fitLine.setAttribute('y2', yAxis(fitIntercept + fitSlope * 6.5).toFixed(1));
fitLine.setAttribute('stroke', '#ff0000');
fitLine.setAttribute('stroke-width', '3.9');
fitLine.setAttribute('stroke-dasharray', '25 6.2 3.9 6.2');


plotLayer.appendChild(fitLine);

const frame = document.createElementNS(SVG_NS, 'rect');
frame.setAttribute('x', '277.5');
frame.setAttribute('y', '54');
frame.setAttribute('width', '1396.5');
frame.setAttribute('height', '1057');
frame.setAttribute('fill', 'none');
frame.setAttribute('stroke', '#000000');
frame.setAttribute('stroke-width', '4');


axisLayer.appendChild(frame);

xTicks.forEach(function (v, i) {
  const px = xAxis(v);
  const tick = document.createElementNS(SVG_NS, 'line');
  tick.setAttribute('x1', px.toFixed(1));
  tick.setAttribute('x2', px.toFixed(1));
  tick.setAttribute('y1', '1111');
  tick.setAttribute('y2', '1125.6');
  tick.setAttribute('stroke', '#000000');
  tick.setAttribute('stroke-width', '4');
  
  
  axisLayer.appendChild(tick);
  const label = document.createElementNS(SVG_NS, 'text');
  label.setAttribute('x', px.toFixed(1));
  label.setAttribute('y', '1178');
  label.setAttribute('text-anchor', 'middle');
  label.setAttribute('font-size', '54.17');
  label.setAttribute('fill', '#000000');
  
  
  label.textContent = xTickLabels[i];
  axisLayer.appendChild(label);
});

yTicks.forEach(function (v, i) {
  const py = yAxis(v);
  const tick = document.createElementNS(SVG_NS, 'line');
  tick.setAttribute('x1', '262.9');
  tick.setAttribute('x2', '277.5');
  tick.setAttribute('y1', py.toFixed(1));
  tick.setAttribute('y2', py.toFixed(1));
  tick.setAttribute('stroke', '#000000');
  tick.setAttribute('stroke-width', '4');
  
  
  axisLayer.appendChild(tick);
  const label = document.createElementNS(SVG_NS, 'text');
  label.setAttribute('x', '249.5');
  label.setAttribute('y', (py + 19.7).toFixed(1));
  label.setAttribute('text-anchor', 'end');
  label.setAttribute('font-size', '54.17');
  label.setAttribute('fill', '#000000');
  
  
  label.textContent = yTickLabels[i];
  axisLayer.appendChild(label);
});
</script>
</body>
</html>
